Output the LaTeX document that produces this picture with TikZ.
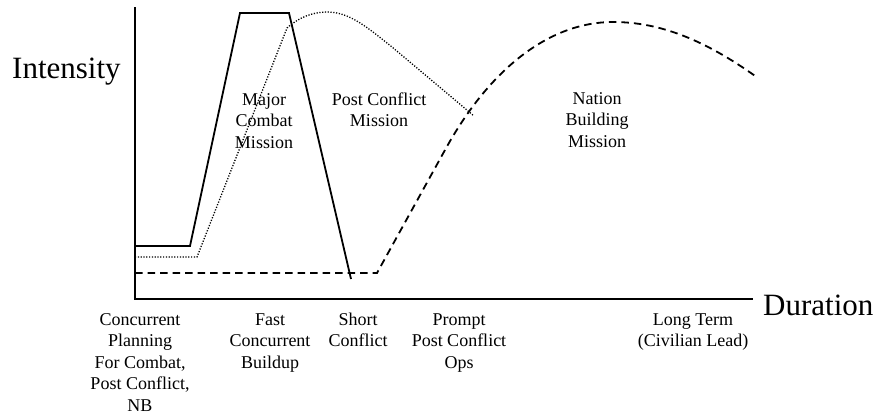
\documentclass[tikz,border=0pt]{standalone}
\usepackage{fontspec}
\setmainfont{Liberation Serif}
\begin{document}
\begin{tikzpicture}[x=1pt,y=-1pt,
  axisline/.style={line width=1.8pt},
  combat/.style={line width=1.8pt, line join=miter},
  postc/.style={line width=1.3pt, dash pattern=on 1.2pt off 1.6pt},
  nation/.style={line width=1.8pt, dash pattern=on 7.5pt off 5pt},
  biglbl/.style={inner sep=0pt, font=\fontsize{31}{34}\selectfont},
  lbl/.style={inner sep=0pt, align=center, anchor=north, font=\fontsize{18}{21.5}\selectfont},
]
\newcommand{\fl}{\rule{0pt}{14pt}}
\useasboundingbox (0,0) rectangle (880,415);
% axes
\coordinate (ytop) at (135,7);
\coordinate (orig) at (135,299);
\coordinate (xend) at (753,299);
\draw[axisline] (ytop) -- (orig) -- (xend);
% major combat (solid)
\draw[combat] (135,246) -- (190,246) -- (240,13) -- (289,13) -- (351,279);
% post conflict (dotted)
\draw[postc] (135,257) -- (197,257) -- (287,28)
  .. controls (298,18) and (312,12) .. (327,12)
  .. controls (350,12) and (368,28) .. (392,47) -- (474,116);
% nation building (dashed)
\draw[nation] (135,273) -- (377,273) -- (445,150)
  .. controls (490,68) and (550,22) .. (613,22)
  .. controls (660,22) and (705,40) .. (758,78);
% axis labels
\node[biglbl, anchor=base west] (inten) at (12,78) {Intensity};
\node[biglbl, anchor=base west] (dur) at (763,315) {Duration};
% region labels
\node[lbl] (mcm) at (264,91) {\fl Major\\Combat\\Mission};
\node[lbl] (pcm) at (379,91) {\fl Post Conflict\\Mission};
\node[lbl] (nbm) at (597,90) {\fl Nation\\Building\\Mission};
% phase labels
\node[lbl] (p1) at (140,311) {\fl Concurrent\\Planning\\For Combat,\\Post Conflict,\\NB};
\node[lbl] (p2) at (270,311) {\fl Fast\\Concurrent\\Buildup};
\node[lbl] (p3) at (358,311) {\fl Short\\Conflict};
\node[lbl] (p4) at (459,311) {\fl Prompt\\Post Conflict\\Ops};
\node[lbl] (p5) at (693,311) {\fl Long Term\\(Civilian Lead)};
\end{tikzpicture}
\end{document}
